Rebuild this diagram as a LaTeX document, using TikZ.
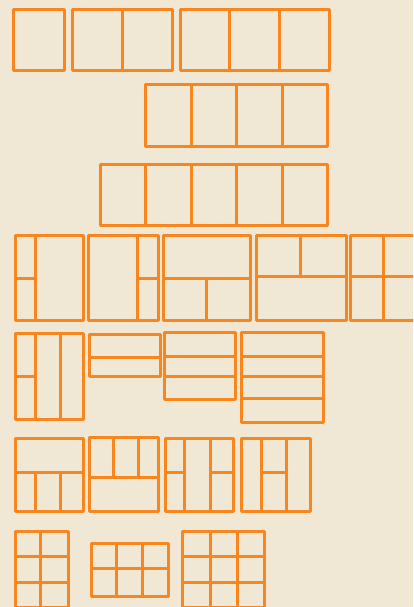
\documentclass[tikz,border=0pt]{standalone}
\definecolor{bgc}{RGB}{240,232,213}
\definecolor{lineor}{RGB}{247,134,30}
\begin{document}
\begin{tikzpicture}[x=1pt,y=-1pt,
  panel/.style={draw=lineor,line width=3pt,line join=round}]
\useasboundingbox (0,0) rectangle (413,607);
\fill[bgc] (0,0) rectangle (413,607);
\clip (0,0) rectangle (413,607);
% Row 1
\draw[panel] (13,10) rectangle (64,71);
\draw[panel] (72,10) rectangle (172,71) (122,10)--(122,71);
\draw[panel] (180,10) rectangle (329,71) (229.5,10)--(229.5,71) (279.5,10)--(279.5,71);
% Row 2
\draw[panel] (145,85) rectangle (327,146)
  (191,85)--(191,146) (236,85)--(236,146) (282,85)--(282,146);
% Row 3
\draw[panel] (100,164) rectangle (327,225)
  (145.5,164)--(145.5,225) (191,164)--(191,225) (236.5,164)--(236.5,225) (282,164)--(282,225);
% Row 4
\draw[panel] (15,235) rectangle (83,320) (35.5,235)--(35.5,320) (15,278)--(35.5,278);
\draw[panel] (88,235) rectangle (158,320) (137.5,235)--(137.5,320) (137.5,278)--(158,278);
\draw[panel] (163,235) rectangle (250,320) (163,278)--(250,278) (206,278)--(206,320);
\draw[panel] (256,235) rectangle (346,320) (256,276)--(346,276) (300,235)--(300,276);
\draw[panel] (350.5,235) rectangle (416,320) (383,235)--(383,320) (350.5,276)--(416,276);
% Row 5
\draw[panel] (15,333) rectangle (83,419) (35,333)--(35,419) (60.5,333)--(60.5,419) (15,376)--(35,376);
\draw[panel] (89,334) rectangle (160,376) (89,357)--(160,357);
\draw[panel] (164,332.5) rectangle (235,399) (164,356.5)--(235,356.5) (164,376)--(235,376);
\draw[panel] (241,332.5) rectangle (323,422.5) (241,356)--(323,356) (241,376)--(323,376) (241,398)--(323,398);
% Row 6
\draw[panel] (15,438) rectangle (83,511) (15,472)--(83,472) (35,472)--(35,511) (60,472)--(60,511);
\draw[panel] (89,437.5) rectangle (158,511) (89,477.5)--(158,477.5) (113.5,437.5)--(113.5,477.5) (138,437.5)--(138,477.5);
\draw[panel] (165,438) rectangle (233.5,511) (184.5,438)--(184.5,511) (210,438)--(210,511)
  (165,472)--(184.5,472) (210,472)--(233.5,472);
\draw[panel] (241,438) rectangle (310,511) (261,438)--(261,511) (286.5,438)--(286.5,511) (261,472)--(286.5,472);
% Row 7
\draw[panel] (15,531) rectangle (68,607) (40.5,531)--(40.5,607) (15,556)--(68,556) (15,582)--(68,582);
\draw[panel] (91,543) rectangle (168,596) (91,568.5)--(168,568.5) (116.5,543)--(116.5,596) (142.5,543)--(142.5,596);
\draw[panel] (182,531) rectangle (264,607) (210.5,531)--(210.5,607) (237,531)--(237,607) (182,556)--(264,556) (182,582)--(264,582);
\end{tikzpicture}
\end{document}
